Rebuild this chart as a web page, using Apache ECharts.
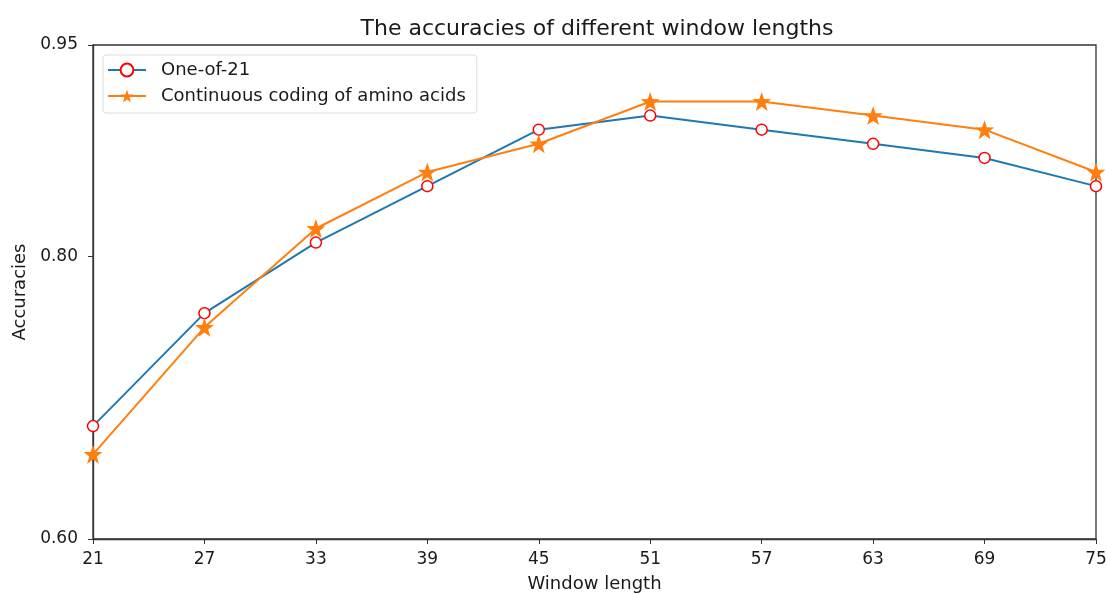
<!DOCTYPE html>
<html><head><meta charset="utf-8">
<script src="https://cdn.jsdelivr.net/npm/echarts@6/dist/echarts.min.js"></script>
<style>html,body{margin:0;padding:0;background:#fff}#c{width:1107px;height:595px}</style>
</head><body><div id="c"></div>
<script>
const categories = [21, 27, 33, 39, 45, 51, 57, 63, 69, 75];
const oneOf21 = [0.68, 0.76, 0.81, 0.85, 0.89, 0.90, 0.89, 0.88, 0.87, 0.85];
const continuous = [0.66, 0.75, 0.82, 0.86, 0.88, 0.91, 0.91, 0.90, 0.89, 0.86];
const yTicks = [0.60, 0.80, 0.95];

const font = 'DejaVu Sans';
const chart = echarts.init(document.getElementById('c'));
chart.setOption({
  animation: false,
  backgroundColor: '#fff',
  title: {
    text: 'The accuracies of different window lengths',
    left: 592, top: 13, textAlign: 'center',
    textStyle: {fontFamily: font, fontSize: 22, fontWeight: 'normal', color: '#1a1a1a'}
  },
  grid: {left: 93, right: 11, top: 45, bottom: 56, show: true, borderColor: '#333', borderWidth: 1.3,
    backgroundColor: 'transparent', containLabel: false, outerBoundsMode: 'none'},
  legend: {
    left: 103, top: 55, orient: 'vertical',
    padding: [6, 11, 8, 4], itemGap: 8,
    itemWidth: 38, itemHeight: 16,
    backgroundColor: '#fff', borderColor: '#ddd', borderWidth: 1, borderRadius: 3,
    textStyle: {fontFamily: font, fontSize: 18, color: '#1a1a1a', padding: [0, 0, 0, 10]},
    data: [{name: 'One-of-21'}, {name: 'Continuous coding of amino acids'}]
  },
  xAxis: {
    type: 'value', min: 21, max: 75, interval: 6,
    name: 'Window length', nameLocation: 'middle', nameGap: 36,
    nameTextStyle: {fontFamily: font, fontSize: 18, color: '#1a1a1a'},
    axisLine: {lineStyle: {color: '#333', width: 1.3}},
    axisTick: {length: 5, lineStyle: {color: '#333'}},
    axisLabel: {fontFamily: font, fontSize: 17, color: '#1a1a1a', margin: 12},
    splitLine: {show: false}
  },
  yAxis: {
    type: 'value', min: 0.6, max: 0.95,
    name: 'Accuracies', nameLocation: 'middle', nameGap: 62,
    nameTextStyle: {fontFamily: font, fontSize: 18, color: '#1a1a1a'},
    axisLine: {show: true, lineStyle: {color: '#333', width: 1.3}},
    axisTick: {show: true, length: 5, lineStyle: {color: '#333'}, customValues: yTicks},
    axisLabel: {fontFamily: font, fontSize: 17, color: '#1a1a1a', margin: 15, customValues: yTicks,
      formatter: v => v.toFixed(2)},
    splitLine: {show: false}
  },
  series: [
    {
      name: 'One-of-21', type: 'line',
      data: categories.map((c, i) => [c, oneOf21[i]]),
      symbol: 'circle', symbolSize: 11,
      lineStyle: {color: '#1f77b4', width: 2},
      itemStyle: {color: '#fff', borderColor: '#ff0000', borderWidth: 1.5},
      clip: true
    },
    {
      name: 'Continuous coding of amino acids', type: 'line',
      data: categories.map((c, i) => [c, continuous[i]]),
      symbol: 'path://M0,-10 L2.35,-3.24 L9.51,-3.09 L3.8,1.24 L5.88,8.09 L0,4 L-5.88,8.09 L-3.8,1.24 L-9.51,-3.09 L-2.35,-3.24 Z',
      symbolSize: 19,
      lineStyle: {color: '#ff7f0e', width: 2},
      itemStyle: {color: '#ff7f0e', borderColor: '#ff7f0e', borderWidth: 0},
      clip: true
    }
  ]
});
</script></body></html>
